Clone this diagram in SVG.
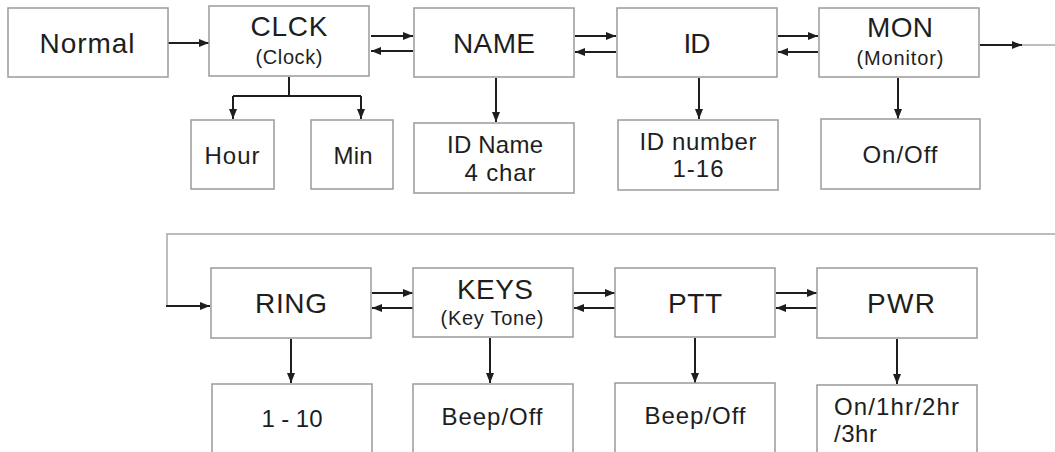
<svg xmlns="http://www.w3.org/2000/svg" width="1055" height="452" viewBox="0 0 1055 452">
<style>
.box{fill:#fff;stroke:#9a9a9a;stroke-width:1.5}
.t{font-family:"Liberation Sans",Arial,sans-serif;fill:#1e1e1e;text-anchor:middle}
.big{font-size:28px}
.sub{font-size:20px}
.mid{font-size:24px}
.c{fill:none;stroke:#1e1e1e;stroke-width:2}
.g{fill:none;stroke:#a8a8a8;stroke-width:1.5}
</style>
<defs>
<marker id="ah" viewBox="0 0 10 8" refX="10" refY="4" markerWidth="10" markerHeight="8" markerUnits="userSpaceOnUse" orient="auto">
<path d="M0,0 L10,4 L0,8 Z" fill="#1e1e1e"/>
</marker>
</defs>
<rect width="1055" height="452" fill="#fff"/>
<g id="connectors">
<line class="c" x1="168" y1="43" x2="209" y2="43" marker-end="url(#ah)"/>
<line class="c" x1="371" y1="36" x2="413" y2="36" marker-end="url(#ah)"/>
<line class="c" x1="413" y1="51" x2="371" y2="51" marker-end="url(#ah)"/>
<line class="c" x1="575" y1="36" x2="616" y2="36" marker-end="url(#ah)"/>
<line class="c" x1="616" y1="52" x2="575" y2="52" marker-end="url(#ah)"/>
<line class="c" x1="778" y1="36" x2="818" y2="36" marker-end="url(#ah)"/>
<line class="c" x1="818" y1="52" x2="778" y2="52" marker-end="url(#ah)"/>
<line class="c" x1="980" y1="45" x2="1022" y2="45" marker-end="url(#ah)"/>
<line class="g" x1="1022" y1="45" x2="1055" y2="45"/>
<polyline class="c" points="289,77 289,96"/>
<polyline class="c" points="233,96 361,96"/>
<line class="c" x1="233" y1="96" x2="233" y2="119" marker-end="url(#ah)"/>
<line class="c" x1="361" y1="96" x2="361" y2="119" marker-end="url(#ah)"/>
<line class="c" x1="496" y1="78" x2="496" y2="122" marker-end="url(#ah)"/>
<line class="c" x1="699" y1="78" x2="699" y2="119" marker-end="url(#ah)"/>
<line class="c" x1="898" y1="78" x2="898" y2="119" marker-end="url(#ah)"/>
<polyline class="g" points="1055,234 167,234 167,306"/>
<line class="c" x1="166" y1="306" x2="210" y2="306" marker-end="url(#ah)"/>
<line class="c" x1="372" y1="293" x2="413" y2="293" marker-end="url(#ah)"/>
<line class="c" x1="413" y1="308" x2="372" y2="308" marker-end="url(#ah)"/>
<line class="c" x1="574" y1="293" x2="615" y2="293" marker-end="url(#ah)"/>
<line class="c" x1="615" y1="308" x2="574" y2="308" marker-end="url(#ah)"/>
<line class="c" x1="776" y1="293" x2="817" y2="293" marker-end="url(#ah)"/>
<line class="c" x1="817" y1="308" x2="776" y2="308" marker-end="url(#ah)"/>
<line class="c" x1="291" y1="339" x2="291" y2="383" marker-end="url(#ah)"/>
<line class="c" x1="490" y1="338" x2="490" y2="383" marker-end="url(#ah)"/>
<line class="c" x1="695" y1="338" x2="695" y2="383" marker-end="url(#ah)"/>
<line class="c" x1="897" y1="339" x2="897" y2="384" marker-end="url(#ah)"/>
</g>
<g id="normal"><rect class="box" x="8" y="8" width="160" height="69"/><text class="t big" x="87" y="53" textLength="95">Normal</text></g>
<g id="clck"><rect class="box" x="209" y="6" width="160" height="70"/><text class="t big" x="289" y="36" textLength="77">CLCK</text><text class="t sub" x="289" y="64" textLength="67">(Clock)</text></g>
<g id="name"><rect class="box" x="414" y="8" width="160" height="69"/><text class="t big" x="494" y="53" textLength="82">NAME</text></g>
<g id="id"><rect class="box" x="617" y="8" width="160" height="69"/><text class="t big" x="697" y="53" textLength="27">ID</text></g>
<g id="mon"><rect class="box" x="819" y="8" width="160" height="69"/><text class="t big" x="900" y="37" textLength="66">MON</text><text class="t sub" x="900" y="65" textLength="87">(Monitor)</text></g>
<g id="hour"><rect class="box" x="191" y="120" width="83" height="69"/><text class="t mid" x="232" y="164" textLength="55">Hour</text></g>
<g id="min"><rect class="box" x="311" y="120" width="82" height="69"/><text class="t mid" x="353" y="164" textLength="39">Min</text></g>
<g id="idname"><rect class="box" x="414" y="123" width="160" height="70"/><text class="t mid" x="495" y="153" textLength="96">ID Name</text><text class="t mid" x="500" y="181" textLength="71">4 char</text></g>
<g id="idnumber"><rect class="box" x="618" y="120" width="160" height="70"/><text class="t mid" x="698" y="150" textLength="117">ID number</text><text class="t mid" x="698" y="177" textLength="51">1-16</text></g>
<g id="onoff"><rect class="box" x="821" y="119" width="159" height="70"/><text class="t mid" x="900" y="163" textLength="75">On/Off</text></g>
<g id="ring"><rect class="box" x="211" y="268" width="160" height="70"/><text class="t big" x="291" y="313" textLength="72">RING</text></g>
<g id="keys"><rect class="box" x="413" y="268" width="160" height="69"/><text class="t big" x="495" y="299" textLength="76">KEYS</text><text class="t sub" x="492" y="325" textLength="103">(Key Tone)</text></g>
<g id="ptt"><rect class="box" x="615" y="268" width="160" height="69"/><text class="t big" x="695" y="313" textLength="54">PTT</text></g>
<g id="pwr"><rect class="box" x="817" y="268" width="160" height="70"/><text class="t big" x="901" y="313" textLength="68">PWR</text></g>
<g id="ring-val"><rect class="box" x="212" y="384" width="160" height="80"/><text class="t mid" x="292" y="427" textLength="61">1 - 10</text></g>
<g id="keys-val"><rect class="box" x="413" y="384" width="160" height="80"/><text class="t mid" x="492" y="425" textLength="101">Beep/Off</text></g>
<g id="ptt-val"><rect class="box" x="615" y="383" width="160" height="80"/><text class="t mid" x="695" y="424" textLength="101">Beep/Off</text></g>
<g id="pwr-val"><rect class="box" x="817" y="385" width="160" height="80"/><text class="t mid" x="834" y="415" textLength="125" style="text-anchor:start">On/1hr/2hr</text><text class="t mid" x="834" y="442" textLength="43" style="text-anchor:start">/3hr</text></g>
</svg>
